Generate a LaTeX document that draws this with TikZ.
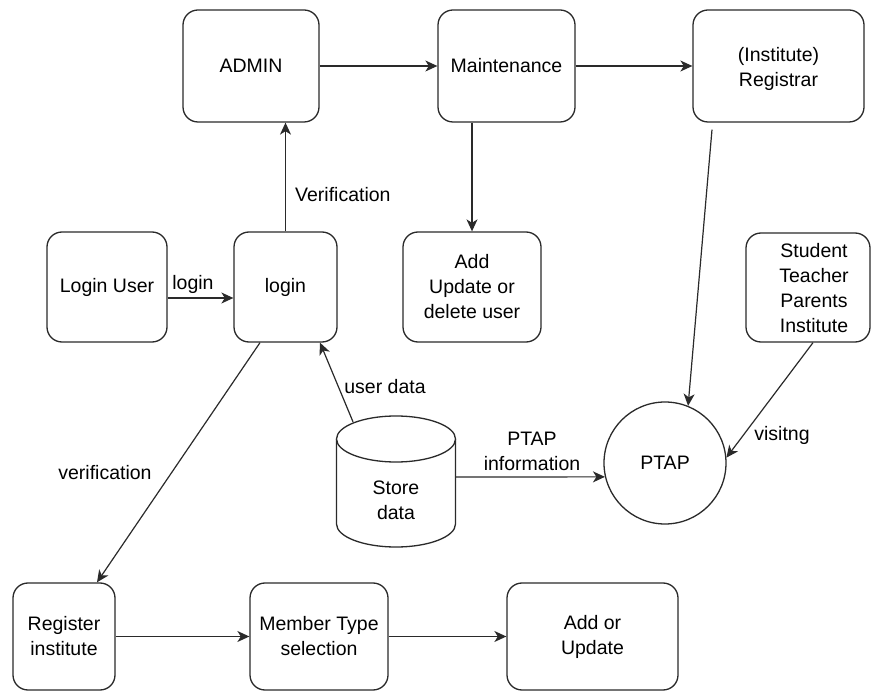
\documentclass[tikz,border=0pt]{standalone}
\usepackage{fontspec}
\setmainfont{Liberation Sans}
\usetikzlibrary{arrows.meta}
\definecolor{linec}{HTML}{2A2A2A}
\newcommand{\fsz}{\fontsize{19.5}{25}\selectfont}
\begin{document}
\begin{tikzpicture}[x=1pt,y=-1pt,
  box/.style={draw=linec, line width=1.3pt, rounded corners=15pt, fill=white,
    align=center, font=\fsz, inner sep=2pt},
  edge/.style={draw=linec, line width=1.2pt,
    -{Stealth[length=12pt,width=11pt,inset=3.5pt]}},
  lbl/.style={font=\fsz, inner sep=0pt, align=center},
  shp/.style={draw=linec, line width=1.3pt, fill=white}]
\useasboundingbox[fill=white] (0,0) rectangle (873,692);

% boxes
\node[box, minimum width=136pt, minimum height=112pt] (admin) at (251,66) {ADMIN};
\node[box, minimum width=137pt, minimum height=112pt] (maint) at (506.5,66) {Maintenance};
\node[box, minimum width=171pt, minimum height=112pt] (reg) at (778.5,66) {};
\node[lbl] (regtxt) at (778.5,69) {(Institute)\\Registrar};
\node[box, minimum width=120pt, minimum height=110pt] (luser) at (107,287) {Login User};
\node[box, minimum width=103pt, minimum height=110pt] (login) at (285.5,287) {login};
\node[box, minimum width=138pt, minimum height=110pt] (addupd) at (472,287) {Add\\Update or\\delete user};
\node[box, minimum width=124pt, minimum height=109pt] (stud) at (808,287.5) {};
\node[lbl] (studtxt) at (814,288) {Student\\Teacher\\Parents\\Institute};
\node[box, minimum width=102pt, minimum height=107pt] (regi) at (64,636.5) {Register\\institute};
\node[box, minimum width=138pt, minimum height=107pt] (member) at (319,636.5) {Member Type\\selection};
\node[box, minimum width=171pt, minimum height=107pt] (addor) at (592.5,636.5) {Add or\\Update};

% PTAP circle
\node[shp, circle, minimum size=122pt, font=\fsz, inner sep=0pt] (ptap) at (665,463) {PTAP};

% Store data cylinder
\node[minimum width=119pt, minimum height=131pt, inner sep=0pt] (store) at (396,481.5) {};
\draw[shp] (336.5,439) -- (336.5,524)
  arc[start angle=180, end angle=0, x radius=59.5, y radius=23] -- (455.5,439);
\draw[shp] (396,439) ellipse [x radius=59.5, y radius=23];
\node[lbl] (storetxt) at (396,500) {Store\\data};

% connectors
\draw[edge] (admin.east) -- (maint.west);
\draw[edge] (maint.east) -- (reg.west);
\draw[edge] (login.north) -- (login.north |- admin.south);
\node[lbl, anchor=west] (lverif) at (295,195) {Verification};
\draw[edge] ([yshift=-11pt]luser.east) -- ([yshift=-11pt]login.west);
\node[lbl] (llogin) at (193,284) {login};
\draw[edge] (addupd.north |- maint.south) -- (addupd.north);
\coordinate (regout) at ([xshift=-66.5pt,yshift=-7pt]reg.south);
\draw[edge] (regout) -- (ptap.68);
\draw[edge] ([xshift=5pt]stud.south) -- (ptap.5);
\node[lbl] (lvisit) at (782,435) {visitng};
\coordinate (storetop) at ([xshift=-43pt,yshift=-6pt]store.north);
\draw[edge] (storetop) -- ([xshift=34.5pt]login.south);
\node[lbl] (luserdata) at (385,387) {user data};
\coordinate (storeright) at ([yshift=4.5pt]store.east);
\draw[edge] (storeright) -- (ptap.193);
\node[lbl] (lptapinfo) at (532,451) {PTAP\\information};
\draw[edge] ([xshift=-25.5pt]login.south) -- ([xshift=33pt]regi.north);
\node[lbl] (lverif2) at (105,473) {verification};
\draw[edge] (regi.east) -- (member.west);
\draw[edge] (member.east) -- (addor.west);
\end{tikzpicture}
\end{document}
